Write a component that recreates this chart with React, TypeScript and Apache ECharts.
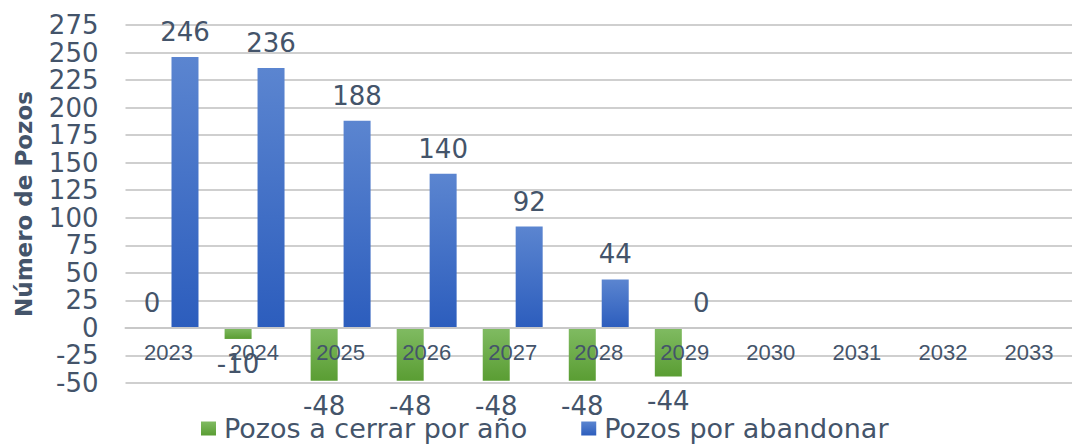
import React, { useEffect, useRef } from "react";
import * as echarts from "echarts";

const years = ["2023", "2024", "2025", "2026", "2027", "2028", "2029", "2030", "2031", "2032", "2033"];
const pozosACerrar: (number | null)[] = [0, -10, -48, -48, -48, -48, -44, null, null, null, null];
const pozosPorAbandonar: (number | null)[] = [246, 236, 188, 140, 92, 44, 0, null, null, null, null];
const yTicks = { min: -50, max: 275, interval: 25 };

const TEXT = "#44546a";

function toData(arr: (number | null)[]) {
  return arr.map((v) =>
    v === null
      ? "-"
      : { value: v, label: { position: v < 0 ? "bottom" : "top" } }
  );
}

export default function App() {
  const ref = useRef<HTMLDivElement>(null);
  useEffect(() => {
    if (!ref.current) return;
    const chart = echarts.init(ref.current, undefined, { renderer: "svg" });
    const labelStyle = {
      show: true,
      fontFamily: "DejaVu Sans",
      fontSize: 26,
      color: TEXT,
      distance: 12,
    };
    const gridTop = 25;
    const gridBottom = 62;
    const plotH = 445 - gridTop - gridBottom;
    const zeroOffset = (plotH * (0 - yTicks.min)) / (yTicks.max - yTicks.min);
    chart.setOption({
      animation: false,
      backgroundColor: "#ffffff",
      grid: { left: 125.5, right: -8.4, top: gridTop, bottom: gridBottom, containLabel: false },
      legend: {
        left: 196,
        top: 410,
        itemWidth: 15,
        itemHeight: 14,
        itemGap: 54,
        icon: "rect",
        textStyle: {
          fontFamily: "DejaVu Sans",
          fontSize: 27,
          color: TEXT,
          padding: [0, 0, 0, 3],
        },
        data: ["Pozos a cerrar por año", "Pozos por abandonar"],
      },
      xAxis: {
        type: "category",
        data: years,
        position: "bottom",
        offset: -zeroOffset,
        z: 5,
        axisLine: { onZero: false, lineStyle: { color: "#c8c8c8", width: 2 } },
        axisTick: { show: false },
        axisLabel: {
          interval: 0,
          fontFamily: "Liberation Sans",
          fontSize: 22,
          color: TEXT,
          margin: 14,
        },
      },
      yAxis: {
        type: "value",
        min: yTicks.min,
        max: yTicks.max,
        interval: yTicks.interval,
        name: "Número de Pozos",
        nameLocation: "middle",
        nameGap: 90,
        nameTextStyle: {
          fontFamily: "DejaVu Sans",
          fontWeight: "bold",
          fontSize: 23,
          color: TEXT,
        },
        axisLine: { show: false },
        axisTick: { show: false },
        axisLabel: {
          fontFamily: "DejaVu Sans",
          fontSize: 26,
          color: TEXT,
          margin: 27,
        },
        splitLine: { lineStyle: { color: "#cfcfcf", width: 2 } },
      },
      series: [
        {
          name: "Pozos a cerrar por año",
          type: "bar",
          barWidth: 27,
          barGap: "22%",
          data: toData(pozosACerrar),
          itemStyle: {
            color: new echarts.graphic.LinearGradient(0, 0, 0, 1, [
              { offset: 0, color: "#80bb62" },
              { offset: 1, color: "#5a9d33" },
            ]),
          },
          label: labelStyle,
        },
        {
          name: "Pozos por abandonar",
          type: "bar",
          barWidth: 27,
          barGap: "22%",
          data: toData(pozosPorAbandonar),
          itemStyle: {
            color: new echarts.graphic.LinearGradient(0, 0, 0, 1, [
              { offset: 0, color: "#5b85d0" },
              { offset: 1, color: "#2c5dbd" },
            ]),
          },
          label: labelStyle,
        },
      ],
    });
    return () => chart.dispose();
  }, []);
  return (
    <div
      ref={ref}
      style={{ position: "absolute", left: 0, top: 0, width: 1072, height: 445 }}
    />
  );
}
